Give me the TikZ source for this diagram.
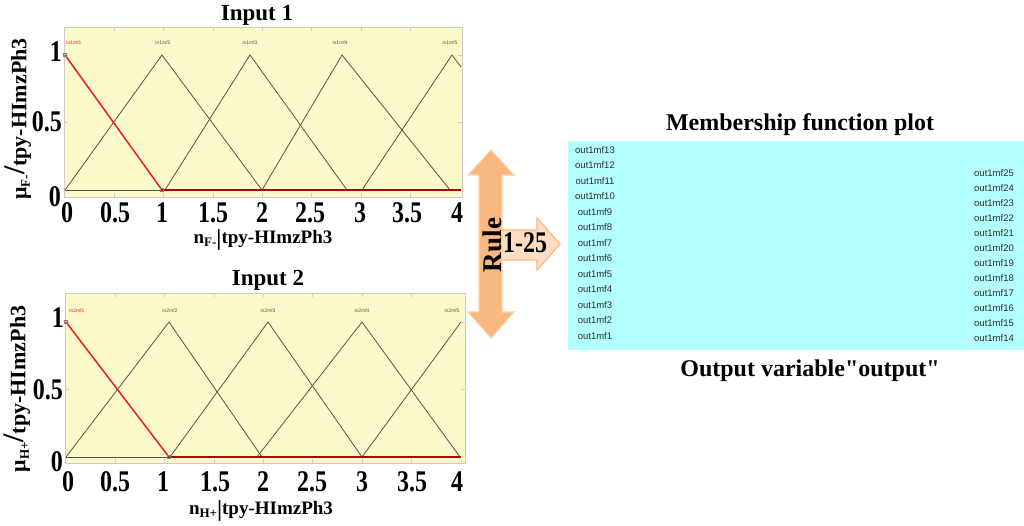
\documentclass[tikz,border=0pt]{standalone}
\usepackage{fontspec}
\setmainfont{Liberation Serif}
\newfontfamily\lsans{Liberation Sans}
\newfontfamily\tickfont[FakeStretch=0.8]{Liberation Serif}
\newfontfamily\rawserif[Ligatures=TeXOff]{Liberation Serif}
\definecolor{plotyellow}{RGB}{252,250,202}
\definecolor{framegray}{RGB}{205,205,200}
\definecolor{mfgray}{RGB}{85,85,70}
\definecolor{mfred}{RGB}{235,30,30}
\definecolor{darkred}{RGB}{170,10,10}
\definecolor{boxcyan}{RGB}{180,255,255}
\definecolor{arrowA}{RGB}{248,184,128}
\definecolor{arrowB}{RGB}{253,222,196}
\definecolor{arrowEdge}{RGB}{252,212,175}
\definecolor{labgray}{RGB}{45,45,45}
\newcommand\sbsc[1]{\raisebox{-0.35ex}{\fontsize{13}{13}\selectfont #1}}
\newcommand\bigbar{\raisebox{-0.25ex}{\fontsize{23}{23}\selectfont |}}
\newcommand\bigslash{\raisebox{0.15ex}{\fontsize{30}{30}\selectfont /}}
\tikzset{
  frame/.style={fill=plotyellow, draw=framegray, line width=1pt},
  tickmark/.style={draw=framegray, line width=0.8pt},
  mfline/.style={draw=mfgray, line width=0.8pt, line join=miter},
  redline/.style={draw=mfred, line width=1.5pt},
  zeroline/.style={draw=darkred, line width=2pt},
  basegray/.style={draw=mfgray, line width=1pt},
  marker/.style={draw=gray, line width=0.5pt},
  mflab/.style={font=\lsans\fontsize{5}{5}\selectfont, text=mfgray, inner sep=0pt, anchor=base},
  redlab/.style={mflab, text=mfred},
  ticklab/.style={font=\tickfont\bfseries\fontsize{30}{30}\selectfont, inner sep=0pt},
  title/.style={font=\bfseries\fontsize{23}{23}\selectfont, inner sep=0pt, anchor=base},
  axlab/.style={font=\bfseries\fontsize{19}{19}\selectfont, inner sep=0pt, anchor=base},
  ylab/.style={font=\bfseries\fontsize{22}{22}\selectfont, inner sep=0pt, rotate=90},
  outlab/.style={font=\lsans\fontsize{9.5}{9.5}\selectfont, text=labgray, inner sep=0pt},
  bigtitle/.style={font=\bfseries\fontsize{24}{24}\selectfont, inner sep=0pt, anchor=base},
}
\begin{document}
\begin{tikzpicture}[x=1pt,y=-1pt]
\useasboundingbox (0,0) rectangle (1024,525);
\fill[white] (0,0) rectangle (1024,525);

% ---------------- Plot 1 ----------------
\node[title] (t1) at (257,20) {Input 1};
\draw[frame] (64,27) rectangle (462,197);
\foreach \u in {0.5,1,...,3.5} {
  \draw[tickmark] ({65+98.75*\u},27) -- ++(0,4);
  \draw[tickmark] ({65+98.75*\u},197) -- ++(0,-4);
}
\foreach \yy in {55,122.5} {
  \draw[tickmark] (462,\yy) -- ++(-4,0);
  \draw[tickmark] (64,\yy) -- ++(4,0);
}
\draw[mfline] (65,190) -- (162,55) -- (262,190);
\draw[mfline] (165,190) -- (250,55) -- (347,190);
\draw[mfline] (262,190) -- (342,55) -- (450,190);
\draw[mfline] (362,190) -- (452,55) -- (461,67);
\draw[basegray] (65,190) -- (162,190);
\draw[zeroline] (162,190) -- (461,190);
\draw[redline] (65,55) -- (162,190);
\draw[marker] (63.5,53.5) rectangle ++(3,3);
\draw[marker] (160.5,188.5) rectangle ++(3,3);
\node[redlab] (a1) at (74,44) {in1mf1};
\node[mflab] (a2) at (163,44) {in1mf2};
\node[mflab] (a3) at (250,44) {in1mf3};
\node[mflab] (a4) at (340,44) {in1mf4};
\node[mflab] (a5) at (450,44) {in1mf5};
\node[ticklab, anchor=east] (y1a) at (62,52) {1};
\node[ticklab, anchor=east] (y1b) at (62,122) {0.5};
\node[ticklab, anchor=east] (y1c) at (61,197) {0};
\foreach \xx/\lab [count=\i] in {67/0,115/0.5,162/1,213/1.5,262/2,310/2.5,360/3,407/3.5,457/4}
  \node[ticklab] (x1\i) at (\xx,213) {\lab};
\node[axlab] (xl1) at (263,243) {n\sbsc{F-}\bigbar tpy-HImzPh3};
\node[ylab] (yl1) at (18,119) {μ\sbsc{F-}\bigslash tpy-HImzPh3};

% ---------------- Plot 2 ----------------
\node[title] (t2) at (268,285) {Input 2};
\draw[frame] (65,293) rectangle (465,463);
\foreach \u in {0.5,1,...,3.5} {
  \draw[tickmark] ({66+98.75*\u},293) -- ++(0,4);
  \draw[tickmark] ({66+98.75*\u},463) -- ++(0,-4);
}
\foreach \yy in {322,389.5} {
  \draw[tickmark] (465,\yy) -- ++(-4,0);
  \draw[tickmark] (65,\yy) -- ++(4,0);
}
\draw[mfline] (66,457) -- (169,322) -- (262,457);
\draw[mfline] (170,457) -- (268,322) -- (362,457);
\draw[mfline] (257,457) -- (362,322) -- (460,457);
\draw[mfline] (362,457) -- (461,322);
\draw[basegray] (66,457) -- (169,457);
\draw[zeroline] (169,457) -- (461,457);
\draw[redline] (66,322) -- (169,457);
\draw[marker] (64.5,320.5) rectangle ++(3,3);
\draw[marker] (167.5,455.5) rectangle ++(3,3);
\node[redlab] (b1) at (77,312) {in2mf1};
\node[mflab] (b2) at (170,312) {in2mf2};
\node[mflab] (b3) at (268,312) {in2mf3};
\node[mflab] (b4) at (362,312) {in2mf4};
\node[mflab] (b5) at (452,312) {in2mf5};
\node[ticklab, anchor=east] (y2a) at (64,318) {1};
\node[ticklab, anchor=east] (y2b) at (63,390) {0.5};
\node[ticklab, anchor=east] (y2c) at (63,462) {0};
\foreach \xx/\lab [count=\i] in {68/0,115/0.5,163/1,215/1.5,263/2,312/2.5,362/3,412/3.5,457/4}
  \node[ticklab] (x2\i) at (\xx,482) {\lab};
\node[axlab] (xl2) at (261,514) {n\sbsc{H+}\bigbar tpy-HImzPh3};
\node[ylab] (yl2) at (17,389) {μ\sbsc{H+}\bigslash tpy-HImzPh3};

% ---------------- Arrows ----------------
\draw[fill=arrowB, draw=arrowA, line width=1.2pt, line join=miter]
  (500,230) -- (537,230) -- (537,218) -- (560,244) -- (537,270) -- (537,260) -- (500,260) -- cycle;
\draw[fill=arrowA, draw=arrowEdge, line width=1.2pt, line join=miter]
  (491,150) -- (514,175) -- (502,175) -- (502,312) -- (514,312) -- (491,338)
  -- (468,312) -- (479,312) -- (479,175) -- (468,175) -- cycle;
\node[font=\bfseries\fontsize{27}{27}\selectfont, rotate=90, inner sep=0pt] (rule) at (492,245) {Rule};
\node[ticklab] (r125) at (525,243) {1-25};

% ---------------- Output panel ----------------
\node[bigtitle] (mt) at (800,130) {Membership function plot};
\fill[boxcyan] (568,141) rectangle (1024,350);
\foreach \k in {1,...,13}
  \node[outlab] (L\k) at (595,{150+(13-\k)*15.5}) {out1mf\k};
\foreach \k in {14,...,25}
  \node[outlab] (R\k) at (994,{338-(\k-14)*15}) {out1mf\k};
\node[bigtitle, font=\rawserif\bfseries\fontsize{24}{24}\selectfont] (ov) at (810,376) {Output variable"output"};
\end{tikzpicture}
\end{document}
